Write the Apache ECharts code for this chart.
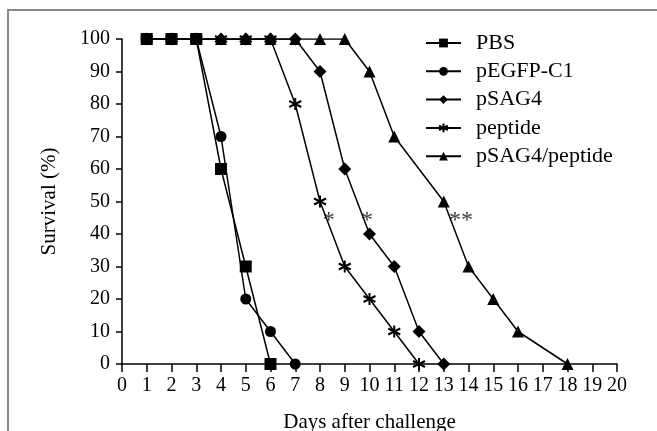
<!DOCTYPE html>
<html>
<head>
<meta charset="utf-8">
<script src="https://cdn.jsdelivr.net/npm/echarts@6/dist/echarts.min.js"></script>
<style>
  html, body { margin: 0; padding: 0; background: #fff; }
  #chart { width: 657px; height: 431px; }
</style>
</head>
<body>
<div id="chart"></div>
<script>
// survival (%) per day
const seriesNames = ['PBS', 'pEGFP-C1', 'pSAG4', 'peptide', 'pSAG4/peptide'];
const pbs = [[1, 100], [2, 100], [3, 100], [4, 60], [5, 30], [6, 0]];
const pegfp = [[1, 100], [2, 100], [3, 100], [4, 70], [5, 20], [6, 10], [7, 0]];
const psag4 = [[1, 100], [2, 100], [3, 100], [4, 100], [5, 100], [6, 100], [7, 100], [8, 90], [9, 60], [10, 40], [11, 30], [12, 10], [13, 0]];
const peptide = [[1, 100], [2, 100], [3, 100], [4, 100], [5, 100], [6, 100], [7, 80], [8, 50], [9, 30], [10, 20], [11, 10], [12, 0]];
const combo = [[1, 100], [2, 100], [3, 100], [4, 100], [5, 100], [6, 100], [7, 100], [8, 100], [9, 100], [10, 90], [11, 70], [13, 50], [14, 30], [15, 20], [16, 10], [18, 0]];
// significance marks: [day, survival, text]
const stars = [[8.35, 44, '*'], [9.9, 44, '*'], [13.7, 44, '**']];

const font = 'Liberation Serif';
const asterisk = 'path://M0,-10L0,10M-8.66,-5L8.66,5M-8.66,5L8.66,-5';

const symbols = ['rect', 'circle', 'diamond', asterisk, 'triangle'];
const sizes = [12, 11, 13, 12, 12];
const datasets = [pbs, pegfp, psag4, peptide, combo];

const series = datasets.map((d, i) => ({
  name: seriesNames[i],
  type: 'line',
  data: d,
  z: 10 - i,
  symbol: symbols[i],
  symbolSize: sizes[i],
  lineStyle: { color: '#000', width: 1.5 },
  itemStyle: i === 3
    ? { color: '#000', borderColor: '#000', borderWidth: 2 }
    : { color: '#000', borderWidth: 0 },
  emphasis: { disabled: true },
  animation: false
}));

series.push({
  type: 'scatter',
  data: stars.map(s => ({ value: [s[0], s[1]], label: { formatter: s[2] } })),
  symbolSize: 1,
  itemStyle: { color: 'rgba(0,0,0,0)' },
  label: { show: true, position: 'inside', color: '#000', fontFamily: font, fontSize: 24 },
  silent: true,
  animation: false
});

const chart = echarts.init(document.getElementById('chart'));
chart.setOption({
  backgroundColor: '#fff',
  animation: false,
  grid: { left: 122, right: 40, top: 39, bottom: 67, containLabel: false, outerBoundsMode: 'none' },
  legend: {
    data: seriesNames,
    orient: 'vertical',
    left: 420,
    top: 27,
    itemWidth: 35,
    itemHeight: 11,
    itemGap: 6.3,
    textStyle: { fontFamily: font, fontSize: 22, lineHeight: 22, color: '#000', padding: [0, 0, 0, 10] },
    selectedMode: false
  },
  xAxis: {
    type: 'value',
    min: 0,
    max: 20,
    interval: 1,
    name: 'Days after challenge',
    nameLocation: 'middle',
    nameGap: 48,
    nameTextStyle: { fontFamily: font, fontSize: 21, color: '#000' },
    axisLine: { onZero: false, lineStyle: { color: '#000', width: 1.5 } },
    axisTick: { length: 8, lineStyle: { color: '#000', width: 1.5 } },
    axisLabel: { margin: 12, fontFamily: font, fontSize: 20, color: '#000' },
    splitLine: { show: false }
  },
  yAxis: {
    type: 'value',
    min: 0,
    max: 100,
    interval: 10,
    name: 'Survival (%)',
    nameLocation: 'middle',
    nameGap: 62,
    nameTextStyle: { fontFamily: font, fontSize: 21, color: '#000' },
    axisLine: { show: true, lineStyle: { color: '#000', width: 1.5 } },
    axisTick: { show: true, length: 6, lineStyle: { color: '#000', width: 1.5 } },
    axisLabel: { margin: 12, fontFamily: font, fontSize: 20, color: '#000' },
    splitLine: { show: false }
  },
  graphic: [{
    type: 'rect',
    shape: { x: 8, y: 10, width: 700, height: 500 },
    style: { fill: 'none', stroke: '#888', lineWidth: 2 },
    silent: true
  }],
  series: series
});
</script>
</body>
</html>
